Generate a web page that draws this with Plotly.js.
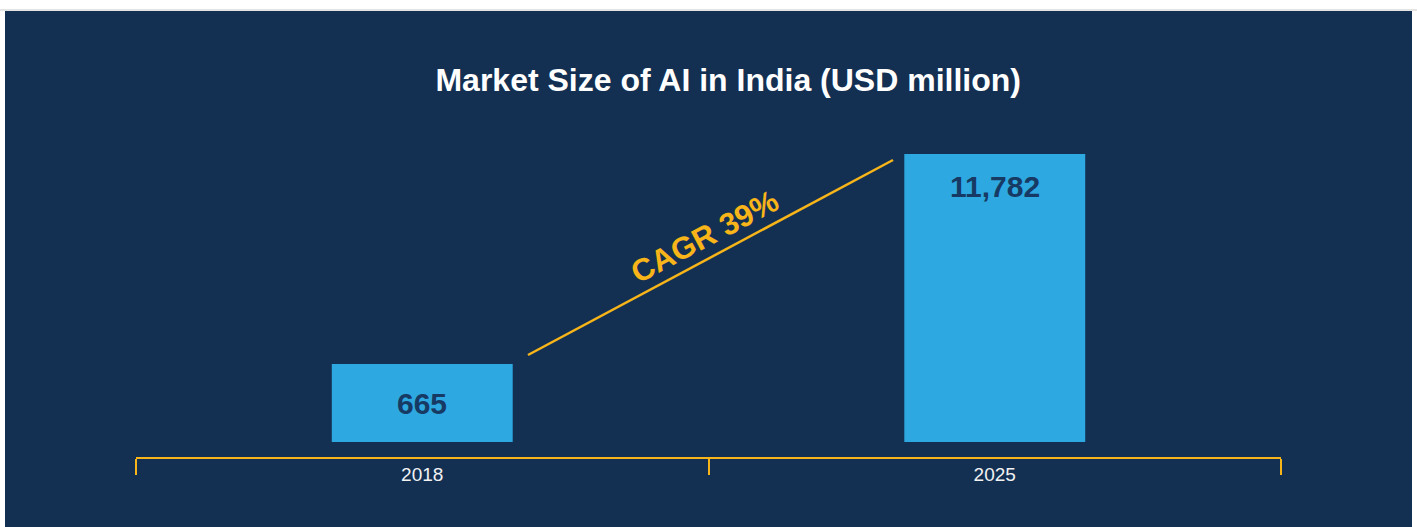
<!DOCTYPE html>
<html>
<head>
<meta charset="utf-8">
<script src="https://cdn.plot.ly/plotly-3.0.1.min.js"></script>
<style>
  html, body { margin: 0; padding: 0; background: #ffffff; width: 1417px; height: 527px; overflow: hidden; }
  #topline { position: absolute; left: 0; top: 9px; width: 1417px; height: 2px; background: #e4e4e4; }
  #chart { position: absolute; left: 5px; top: 11px; width: 1407px; height: 516px; }
</style>
</head>
<body>
<div id="topline"></div>
<div id="chart"></div>
<script>
// ---- data ----
const years = ['2018', '2025'];
const marketSize = [665, 11782];
const labels = ['665', '11,782'];
const chartTitle = 'Market Size of AI in India (USD million)';
const cagrText = 'CAGR 39%';

const NAVY = '#133053';
const BAR = '#2ea8e1';
const YELLOW = '#f7b519';
const LABEL = '#163a63';

const trace = {
  type: 'bar',
  x: years,
  y: marketSize,
  width: 0.316,
  marker: { color: BAR, line: { width: 0 } },
  hoverinfo: 'x+y'
};

const annotations = years.map((yr, i) => ({
  xref: 'x', yref: 'y',
  x: i, y: Math.log10(marketSize[i]),
  text: '<b>' + labels[i] + '</b>',
  showarrow: false,
  xanchor: 'center',
  yanchor: 'middle',
  yshift: i === 0 ? -39 : -32,
  font: { family: 'Arial, Liberation Sans, sans-serif', size: 30, color: LABEL }
}));

annotations.push({
  xref: 'x', yref: 'paper',
  x: 0.494, y: 0.637,
  text: '<b>' + cagrText + '</b>',
  showarrow: false,
  textangle: -28,
  xanchor: 'center', yanchor: 'middle',
  font: { family: 'Arial, Liberation Sans, sans-serif', size: 31, color: YELLOW }
});

const layout = {
  width: 1407,
  height: 516,
  paper_bgcolor: NAVY,
  plot_bgcolor: NAVY,
  margin: { l: 131, r: 131, t: 100, b: 69 },
  showlegend: false,
  title: {
    text: '<b>' + chartTitle + '</b>',
    xref: 'container', x: 0.514,
    yref: 'container', y: 0.867, yanchor: 'middle', xanchor: 'center',
    font: { family: 'Arial, Liberation Sans, sans-serif', size: 32, color: '#ffffff' }
  },
  xaxis: {
    type: 'category',
    categoryorder: 'array',
    categoryarray: years,
    range: [-0.5, 1.5],
    anchor: 'free',
    position: 0,
    tickson: 'boundaries',
    ticks: 'outside',
    ticklen: 16,
    tickwidth: 2,
    tickcolor: YELLOW,
    showline: true,
    linecolor: YELLOW,
    linewidth: 2,
    showgrid: false,
    zeroline: false,
    ticklabelstandoff: -1,
    tickfont: { family: 'Arial, Liberation Sans, sans-serif', size: 19, color: '#f2f2f2' },
    fixedrange: true
  },
  yaxis: {
    type: 'log',
    domain: [0.0461, 1],
    range: [2.3591, 4.3269],
    visible: false,
    showgrid: false,
    zeroline: false,
    fixedrange: true
  },
  shapes: [{
    type: 'line',
    xref: 'x', yref: 'paper',
    x0: 0.1847, y0: 0.2968,
    x1: 0.8223, y1: 0.8588,
    line: { color: YELLOW, width: 2.5 }
  }],
  annotations: annotations
};

Plotly.newPlot('chart', [trace], layout, { displayModeBar: false, staticPlot: true });
</script>
</body>
</html>
